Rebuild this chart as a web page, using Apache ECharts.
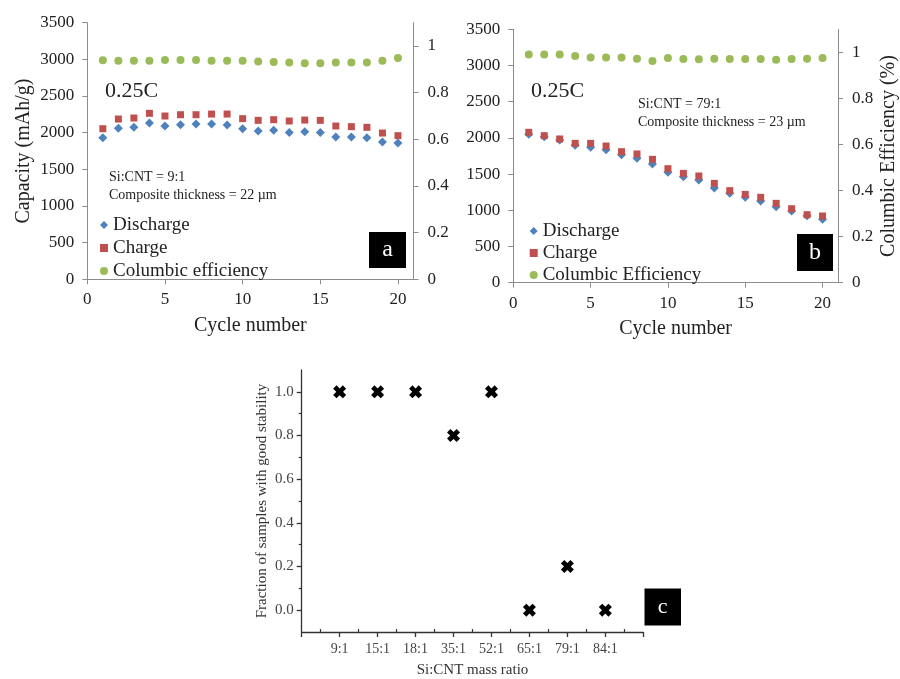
<!DOCTYPE html>
<html>
<head>
<meta charset="utf-8">
<script src="https://cdn.jsdelivr.net/npm/echarts@6/dist/echarts.min.js"></script>
<style>html,body{margin:0;padding:0;background:#fff}#main{width:900px;height:679px}</style>
</head>
<body>
<div id="main"></div>
<script>
// ---- Data ----
const cycles = [1,2,3,4,5,6,7,8,9,10,11,12,13,14,15,16,17,18,19,20];
const dischargeA = [1932,2059,2073,2132,2091,2109,2118,2118,2104,2054,2023,2032,2004,2013,2004,1941,1941,1932,1873,1859];
const chargeA    = [2054,2186,2200,2264,2227,2245,2245,2254,2254,2191,2168,2177,2159,2172,2168,2091,2082,2073,1995,1959];
const ceA        = [0.939,0.937,0.937,0.937,0.940,0.940,0.940,0.937,0.937,0.937,0.934,0.932,0.929,0.926,0.926,0.929,0.929,0.929,0.937,0.949];
const dischargeB = [2049,2017,1971,1897,1870,1837,1768,1718,1639,1524,1464,1418,1308,1234,1179,1128,1050,990,926,875];
const chargeB    = [2077,2031,1985,1925,1925,1888,1810,1778,1704,1575,1510,1474,1372,1271,1220,1179,1096,1022,939,921];
const ceB        = [0.991,0.991,0.991,0.984,0.978,0.978,0.978,0.972,0.962,0.975,0.971,0.970,0.972,0.971,0.971,0.971,0.968,0.971,0.972,0.975];
const ratioLabels = ['9:1','15:1','18:1','35:1','52:1','65:1','79:1','84:1'];
const fractionC   = [1.0,1.0,1.0,0.8,1.0,0.0,0.2,0.0];
const cycleTicks  = [0,5,10,15,20];
const ceTicks     = [0,0.2,0.4,0.6,0.8,1];
const fracTicks   = [0,0.2,0.4,0.6,0.8,1.0];
const fracMinor   = [0.1,0.3,0.5,0.7,0.9];
const ratioTicks  = [0,1,2,3,4,5,6,7,8,9];
const ratioMinor  = [0.5,1.5,2.5,3.5,4.5,5.5,6.5,7.5,8.5];

// ---- Styles ----
const FONT = 'Liberation Serif';
const AX = '#8c8c8c';
const TXT = '#222';
const BLUE = '#4F81BD', RED = '#C0504D', GREEN = '#9BBB59';
const XPATH = 'path://M0,2.6 L2.6,0 L5,2.4 L7.4,0 L10,2.6 L7.6,5 L10,7.4 L7.4,10 L5,7.6 L2.6,10 L0,7.4 L2.4,5 Z';

function pairs(xs, ys){ return xs.map((x,i)=>[x, ys[i]]); }

function excelX(gridIndex){
  return {
    type:'value', gridIndex, min:0, max:21, position:'bottom',
    axisLine:{show:true, onZero:false, lineStyle:{color:AX, width:1}},
    axisTick:{show:true, customValues:cycleTicks, length:5, lineStyle:{color:AX}},
    axisLabel:{customValues:cycleTicks, fontFamily:FONT, fontSize:17, color:TXT, margin:12},
    splitLine:{show:false},
    name:'Cycle number', nameLocation:'middle', nameGap:36,
    nameTextStyle:{fontFamily:FONT, fontSize:20, color:TXT}
  };
}
function capY(gridIndex, withName){
  const o = {
    type:'value', gridIndex, min:0, max:3500, interval:500, position:'left',
    axisLine:{show:true, onZero:false, lineStyle:{color:AX, width:1}},
    axisTick:{show:true, length:5, lineStyle:{color:AX}},
    axisLabel:{fontFamily:FONT, fontSize:17, color:TXT, margin:13, formatter:(v)=>String(v)},
    splitLine:{show:false}
  };
  if (withName){
    o.name = 'Capacity (mAh/g)'; o.nameLocation='middle'; o.nameGap = 54;
    o.nameTextStyle = {fontFamily:FONT, fontSize:20, color:TXT};
  }
  return o;
}
function ceY(gridIndex, withName){
  const o = {
    type:'value', gridIndex, min:0, max:1.1, position:'right',
    axisLine:{show:true, onZero:false, lineStyle:{color:AX, width:1}},
    axisTick:{show:true, customValues:ceTicks, length:5, lineStyle:{color:AX}},
    axisLabel:{customValues:ceTicks, fontFamily:FONT, fontSize:17, color:TXT, margin:14, formatter:(v)=>String(v)},
    splitLine:{show:false}
  };
  if (withName){
    o.name = 'Columbic Efficiency (%)'; o.nameLocation='middle'; o.nameGap = 41; o.nameRotate = 90;
    o.nameTextStyle = {fontFamily:FONT, fontSize:20, color:TXT};
  }
  return o;
}

const legendText = (lh)=>({fontFamily:FONT, fontSize:19, color:TXT, lineHeight:lh});
const sc = (name, xi, yi, symbol, size, color, data)=>({
  name, type:'scatter', xAxisIndex:xi, yAxisIndex:yi, symbol, symbolSize:size,
  itemStyle:{color, opacity:1}, emphasis:{disabled:true}, data
});

const option = {
  backgroundColor:'#fff',
  animation:false,
  grid:[
    {left:87.3, top:22.7, width:326.2, height:256.6},
    {left:513.3, top:29.3, width:326, height:253.4},
    {left:301.7, top:370, width:341.6, height:262.3}
  ],
  xAxis:[
    excelX(0),
    excelX(1),
    {
      type:'value', gridIndex:2, min:0, max:9, position:'bottom',
      axisLine:{show:true, onZero:false, lineStyle:{color:'#333', width:1.3}},
      axisTick:{show:true, length:5, customValues:ratioTicks, lineStyle:{color:'#333', width:1.3}},
      axisLabel:{customValues:[1,2,3,4,5,6,7,8], fontFamily:FONT, fontSize:14, color:'#444', margin:10,
        formatter:(v)=> (v>=1 && v<=ratioLabels.length) ? ratioLabels[Math.round(v)-1] : ''},
      splitLine:{show:false},
      name:'Si:CNT mass ratio', nameLocation:'middle', nameGap:31,
      nameTextStyle:{fontFamily:FONT, fontSize:15, color:'#333'}
    },
    {
      type:'value', gridIndex:2, min:0, max:9, position:'bottom', offset:0,
      axisLine:{show:false, onZero:false},
      axisTick:{show:true, inside:true, length:3, customValues:ratioMinor, lineStyle:{color:'#333', width:1.2}},
      axisLabel:{show:false},
      splitLine:{show:false}
    }
  ],
  yAxis:[
    capY(0, true),
    ceY(0, false),
    capY(1, false),
    ceY(1, true),
    {
      type:'value', gridIndex:2, min:-0.1, max:1.1, position:'left',
      axisLine:{show:true, onZero:false, lineStyle:{color:'#333', width:1.3}},
      axisTick:{show:true, length:5, customValues:fracTicks, lineStyle:{color:'#333', width:1.3}},
      axisLabel:{customValues:fracTicks, fontFamily:FONT, fontSize:15, color:'#444', margin:8,
        formatter:(v)=>v.toFixed(1)},
      splitLine:{show:false},
      name:'Fraction of samples with good stability', nameLocation:'middle', nameGap:32,
      nameTextStyle:{fontFamily:FONT, fontSize:15, color:'#333'}
    },
    {
      type:'value', gridIndex:2, min:-0.1, max:1.1, position:'left', offset:0,
      axisLine:{show:false, onZero:false},
      axisTick:{show:true, length:3, customValues:fracMinor, lineStyle:{color:'#333', width:1.2}},
      axisLabel:{show:false},
      splitLine:{show:false}
    }
  ],
  legend:[
    {
      selectedMode:false, orient:'vertical', left:95, top:208.5, itemGap:0,
      itemWidth:8, itemHeight:8, textStyle:legendText(23),
      data:[{name:'Discharge', icon:'diamond'},{name:'Charge', icon:'rect'},{name:'Columbic efficiency', icon:'circle'}]
    },
    {
      selectedMode:false, orient:'vertical', left:524.7, top:215, itemGap:0,
      itemWidth:8, itemHeight:8, textStyle:legendText(22),
      data:[{name:'Discharge', icon:'diamond'},{name:'Charge', icon:'rect'},{name:'Columbic Efficiency', icon:'circle'}]
    }
  ],
  series:[
    sc('Discharge', 0, 0, 'diamond', 9, BLUE, pairs(cycles, dischargeA)),
    sc('Charge', 0, 0, 'rect', 7, RED, pairs(cycles, chargeA)),
    sc('Columbic efficiency', 0, 1, 'circle', 8, GREEN, pairs(cycles, ceA)),
    sc('Discharge', 1, 2, 'diamond', 9, BLUE, pairs(cycles, dischargeB)),
    sc('Charge', 1, 2, 'rect', 7, RED, pairs(cycles, chargeB)),
    sc('Columbic Efficiency', 1, 3, 'circle', 8, GREEN, pairs(cycles, ceB)),
    sc('Fraction', 2, 4, XPATH, 13, '#000', fractionC.map((v,i)=>[i+1, v]))
  ],
  graphic:[
    {type:'text', x:105, y:91, style:{text:'0.25C', fontFamily:FONT, fontSize:22, fill:TXT, verticalAlign:'middle'}},
    {type:'text', x:109, y:177, style:{text:'Si:CNT = 9:1', fontFamily:FONT, fontSize:14, fill:TXT, verticalAlign:'middle'}},
    {type:'text', x:109, y:195, style:{text:'Composite thickness = 22 µm', fontFamily:FONT, fontSize:14, fill:TXT, verticalAlign:'middle'}},
    {type:'rect', shape:{x:369, y:232, width:37, height:36}, style:{fill:'#000'}},
    {type:'text', x:387.5, y:250, style:{text:'a', fontFamily:FONT, fontSize:24, fill:'#fff', align:'center', verticalAlign:'middle'}},

    {type:'text', x:531, y:91, style:{text:'0.25C', fontFamily:FONT, fontSize:22, fill:TXT, verticalAlign:'middle'}},
    {type:'text', x:638, y:104.5, style:{text:'Si:CNT = 79:1', fontFamily:FONT, fontSize:14, fill:TXT, verticalAlign:'middle'}},
    {type:'text', x:638, y:122.5, style:{text:'Composite thickness = 23 µm', fontFamily:FONT, fontSize:14, fill:TXT, verticalAlign:'middle'}},
    {type:'rect', shape:{x:797, y:234, width:36, height:37}, style:{fill:'#000'}},
    {type:'text', x:815, y:252.5, style:{text:'b', fontFamily:FONT, fontSize:24, fill:'#fff', align:'center', verticalAlign:'middle'}},

    {type:'rect', shape:{x:644.5, y:588.5, width:36.5, height:37}, style:{fill:'#000'}},
    {type:'text', x:662.7, y:607, style:{text:'c', fontFamily:FONT, fontSize:22, fill:'#fff', align:'center', verticalAlign:'middle'}}
  ]
};

const chart = echarts.init(document.getElementById('main'), null, {renderer:'canvas'});
chart.setOption(option);
</script>
</body>
</html>
